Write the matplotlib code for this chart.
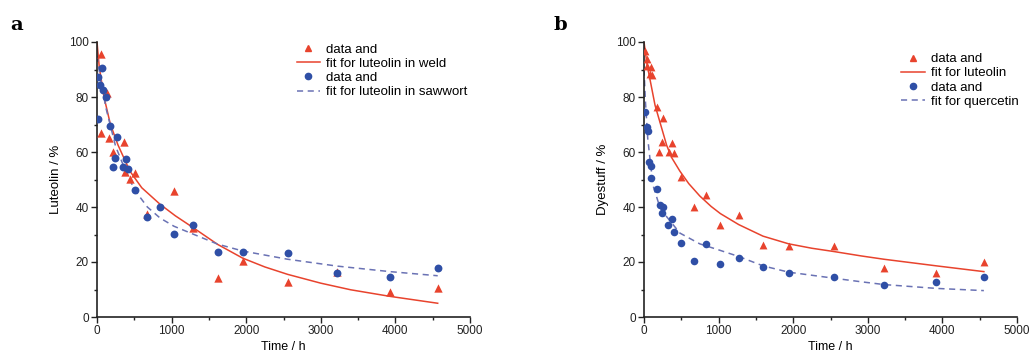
import matplotlib
matplotlib.use('Agg')
import matplotlib.pyplot as plt
from matplotlib.lines import Line2D
from matplotlib.ticker import MultipleLocator

plt.rcParams['font.family'] = ['Liberation Sans', 'DejaVu Sans']

RED = '#e8432d'
BLUE = '#2f4fa6'
DASH = '#6a72b4'

# panel a - luteolin in weld (triangles) and sawwort (circles)
weld_t = [54, 130, 54, 165, 362, 219, 376, 510, 442, 1032, 675, 1283, 1617, 1953, 2556, 3222, 3928, 4567]
weld_y = [95.5, 81.3, 66.8, 65.0, 63.7, 60.1, 52.8, 52.5, 50.2, 45.9, 37.3, 32.3, 14.3, 20.5, 12.6, 16.5, 9.0, 10.7]
saw_t = [63, 17, 40, 85, 115, 17, 174, 272, 241, 389, 219, 344, 420, 510, 845, 675, 1283, 1032,
         1617, 1953, 2556, 3222, 3928, 4567]
saw_y = [90.5, 87.4, 84.4, 82.5, 80.1, 72.0, 69.4, 65.5, 57.7, 57.3, 54.4, 54.4, 53.7, 46.2, 40.1,
         36.3, 33.5, 30.2, 23.7, 23.5, 23.4, 16.1, 14.4, 17.9]
weld_fit_t = [0, 30, 94, 180, 282, 442, 600, 845, 1050, 1283, 1617, 1953, 2250, 2556, 3000, 3400, 3928, 4567]
weld_fit_y = [100, 91, 80, 70, 62.5, 53, 47, 41, 36.8, 32.6, 26.4, 21.4, 18.2, 15.5, 12.3, 9.9, 7.5, 5]
saw_fit_t = [0, 50, 120, 250, 400, 510, 675, 845, 1032, 1283, 1617, 1953, 2556, 3222, 3928, 4567]
saw_fit_y = [95, 86, 76, 62, 52, 46, 40, 36, 33, 30.2, 26.5, 24, 21, 18.5, 16.5, 15]

# panel b - luteolin (triangles) and quercetin (circles)
lut_t = [9, 36, 44, 89, 80, 103, 170, 259, 245, 379, 205, 339, 402, 495, 666, 836, 1024, 1270,
         1595, 1940, 2547, 3217, 3919, 4556]
lut_y = [96.7, 94.0, 91.4, 90.8, 88.3, 88.0, 76.5, 72.3, 63.7, 63.2, 59.9, 60.1, 59.5, 51.0, 39.9,
         44.4, 33.5, 37.1, 26.2, 25.8, 25.8, 17.9, 15.9, 19.9]
que_t = [13, 36, 49, 71, 89, 98, 170, 214, 259, 236, 380, 325, 402, 495, 836, 666, 1270, 1024,
         1595, 1940, 2547, 3217, 3919, 4556]
que_y = [74.7, 69.2, 67.5, 56.3, 54.9, 50.6, 46.5, 40.7, 40.1, 37.9, 35.6, 33.5, 31.0, 27.0, 26.5,
         20.4, 21.6, 19.2, 18.1, 15.9, 14.4, 11.6, 12.6, 14.7]
lut_fit_t = [0, 40, 148, 303, 370, 482, 600, 748, 900, 1024, 1270, 1595, 1940, 2250, 2547, 2913, 3217, 3919, 4556]
lut_fit_y = [100, 92, 77, 62.5, 58, 53, 48.5, 44, 40.2, 37.6, 33.6, 29.4, 26.6, 25, 23.8, 22.2, 21, 18.6, 16.5]
que_fit_t = [0, 20, 50, 90, 125, 200, 303, 482, 748, 1024, 1270, 1595, 1940, 2547, 2913, 3217, 3919, 4556]
que_fit_y = [90, 78, 65, 55, 47.5, 41, 36.5, 30.5, 26.6, 24.2, 22, 18.6, 16.3, 14.1, 12.8, 11.8, 10.4, 9.6]

fig = plt.figure(figsize=(10.3, 3.63), dpi=100)
ax_a = fig.add_axes([97 / 1030, 1 - 317 / 363, 373 / 1030, 275 / 363])
ax_b = fig.add_axes([644 / 1030, 1 - 317 / 363, 373 / 1030, 275 / 363])


def style(ax, ylabel):
    ax.set_xlim(0, 5000)
    ax.set_ylim(0, 100)
    ax.spines['top'].set_visible(False)
    ax.spines['right'].set_visible(False)
    for s in ('left', 'bottom'):
        ax.spines[s].set_linewidth(1.2)
        ax.spines[s].set_color('#222222')
    ax.xaxis.set_major_locator(MultipleLocator(1000))
    ax.xaxis.set_minor_locator(MultipleLocator(500))
    ax.yaxis.set_major_locator(MultipleLocator(20))
    ax.yaxis.set_minor_locator(MultipleLocator(10))
    ax.tick_params(which='both', direction='out', width=1.0, colors='#222222', labelsize=8.5, pad=2)
    ax.tick_params(which='major', length=4)
    ax.tick_params(which='minor', length=2.5)
    ax.set_xlabel('Time / h', fontsize=9, labelpad=3)
    ax.set_ylabel(ylabel, fontsize=9.5, labelpad=5)


style(ax_a, 'Luteolin / %')
ax_a.plot(weld_fit_t, weld_fit_y, color=RED, lw=1.1, zorder=2)
ax_a.plot(saw_fit_t, saw_fit_y, color=DASH, lw=1.1, ls=(0, (4, 3)), zorder=2)
ax_a.scatter(weld_t, weld_y, marker='^', s=36, color=RED, lw=0, zorder=3)
ax_a.scatter(saw_t, saw_y, marker='o', s=32, color=BLUE, lw=0, zorder=3)

style(ax_b, 'Dyestuff / %')
ax_b.plot(lut_fit_t, lut_fit_y, color=RED, lw=1.1, zorder=2)
ax_b.plot(que_fit_t, que_fit_y, color=DASH, lw=1.1, ls=(0, (4, 3)), zorder=2)
ax_b.scatter(lut_t, lut_y, marker='^', s=32, color=RED, lw=0, zorder=3)
ax_b.scatter(que_t, que_y, marker='o', s=30, color=BLUE, lw=0, zorder=3)


def legend(ax, labels, anchor):
    handles = [Line2D([], [], marker='^', color=RED, ls='none', markersize=5),
               Line2D([], [], color=RED, lw=1.1),
               Line2D([], [], marker='o', color=BLUE, ls='none', markersize=4.5),
               Line2D([], [], color=DASH, lw=1.1, ls=(0, (4, 3)))]
    ax.legend(handles, labels, loc='upper left', bbox_to_anchor=anchor, frameon=False,
              fontsize=9.5, borderpad=0, borderaxespad=0, handlelength=1.8,
              handletextpad=0.45, labelspacing=0.15)


legend(ax_a, ['data and', 'fit for luteolin in weld', 'data and', 'fit for luteolin in sawwort'],
       (0.535, 0.995))
legend(ax_b, ['data and', 'fit for luteolin', 'data and', 'fit for quercetin'],
       (0.69, 0.96))

fig.text(10 / 1030, 1 - 25 / 363, 'a', family='DejaVu Serif', fontweight='bold', fontsize=14, va='center')
fig.text(553 / 1030, 1 - 25 / 363, 'b', family='DejaVu Serif', fontweight='bold', fontsize=14, va='center')

fig.savefig('out.png', dpi=100)
